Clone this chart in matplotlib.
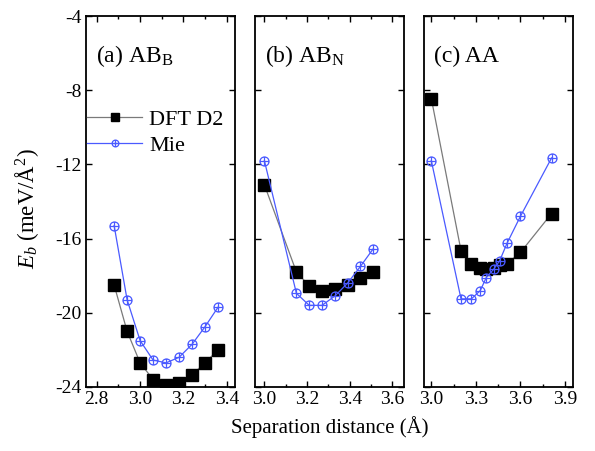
import numpy as np
import matplotlib
matplotlib.use("Agg")
import matplotlib.pyplot as plt
from matplotlib.path import Path
from matplotlib.ticker import MultipleLocator

plt.rcParams["font.family"] = ["Liberation Serif", "DejaVu Serif"]
plt.rcParams["mathtext.fontset"] = "custom"
plt.rcParams["mathtext.rm"] = "Liberation Serif"
plt.rcParams["mathtext.it"] = "Liberation Serif:italic"

# binding energy curves for the three stackings
x_abb = [2.88, 2.94, 3.00, 3.06, 3.12, 3.18, 3.24, 3.30, 3.36]
dft_abb = [-18.5, -21.0, -22.7, -23.6, -23.9, -23.8, -23.35, -22.7, -22.0]
mie_abb = [-15.3, -19.3, -21.5, -22.55, -22.7, -22.4, -21.7, -20.75, -19.7]

x_abn = [3.00, 3.15, 3.21, 3.27, 3.33, 3.39, 3.45, 3.51]
dft_abn = [-13.1, -17.8, -18.55, -18.8, -18.7, -18.5, -18.15, -17.8]
mie_abn = [-11.8, -18.95, -19.6, -19.6, -19.1, -18.4, -17.5, -16.55]

x_aa = [3.00, 3.20, 3.27, 3.33, 3.37, 3.42, 3.46, 3.51, 3.60, 3.81]
dft_aa = [-8.45, -16.65, -17.35, -17.6, -17.65, -17.6, -17.45, -17.35, -16.75, -14.65]
mie_aa = [-11.8, -19.25, -19.25, -18.8, -18.1, -17.65, -17.2, -16.25, -14.8, -11.65]

panels = [
    ("(a) AB$_\\mathrm{B}$", x_abb, dft_abb, mie_abb, (2.75, 3.44), 0.2, [2.8, 3.0, 3.2, 3.4]),
    ("(b) AB$_\\mathrm{N}$", x_abn, dft_abn, mie_abn, (2.955, 3.655), 0.2, [3.0, 3.2, 3.4, 3.6]),
    ("(c) AA", x_aa, dft_aa, mie_aa, (2.948, 3.954), 0.3, [3.0, 3.3, 3.6, 3.9]),
]

# circle with a cross inside, drawn as one open marker
circ = Path.unit_circle()
cross = Path([(-1, 0), (1, 0), (0, -1), (0, 1)],
             [Path.MOVETO, Path.LINETO, Path.MOVETO, Path.LINETO])
oplus = Path.make_compound_path(circ, cross)

blue = "#4a5aff"

fig, axes = plt.subplots(1, 3, figsize=(5.95, 4.51), dpi=100, sharey=True)
fig.subplots_adjust(left=0.1445, right=0.963, bottom=0.142, top=0.9645, wspace=0.13)

for ax, (label, x, dft, mie, xlim, step, ticks) in zip(axes, panels):
    ax.plot(x, dft, color="#7a7a7a", lw=0.9, marker="s", ms=8,
            mfc="black", mec="black", label="DFT D2")
    ax.plot(x, mie, color=blue, lw=0.9, marker=oplus, ms=6.5,
            mfc="none", mec=blue, mew=0.9, label="Mie")
    ax.set_xlim(*xlim)
    ax.set_xticks(ticks)
    ax.set_xticklabels([f"{t:.1f}" for t in ticks])
    ax.xaxis.set_minor_locator(MultipleLocator(step / 2))
    ax.set_ylim(-24, -4)
    ax.set_yticks(np.arange(-24, -3, 4))
    ax.tick_params(axis="both", which="major", direction="in", length=4.5,
                   width=1.0, labelsize=14, top=True, right=True, pad=3)
    ax.tick_params(axis="x", which="minor", direction="in", length=2.5,
                   width=1.0, top=True)
    for s in ax.spines.values():
        s.set_linewidth(1.3)
    ax.text(0.067, 0.876, label, transform=ax.transAxes, fontsize=17,
            va="baseline", ha="left")

axes[0].set_yticklabels([str(v) for v in range(-24, -3, 4)])
axes[0].set_ylabel("$E_b$ (meV/Å$^2$)", fontsize=16.5)
axes[0].yaxis.set_label_coords(-0.30, 0.48)
axes[1].set_xlabel("Separation distance (Å)", fontsize=15, labelpad=6)

axes[0].legend(loc="upper left", bbox_to_anchor=(0.005, 0.748), frameon=False,
               fontsize=16, borderaxespad=0, borderpad=0, handlelength=2.5,
               handletextpad=0.3, labelspacing=0.25, markerscale=0.75)

fig.savefig("out.png", dpi=100)
